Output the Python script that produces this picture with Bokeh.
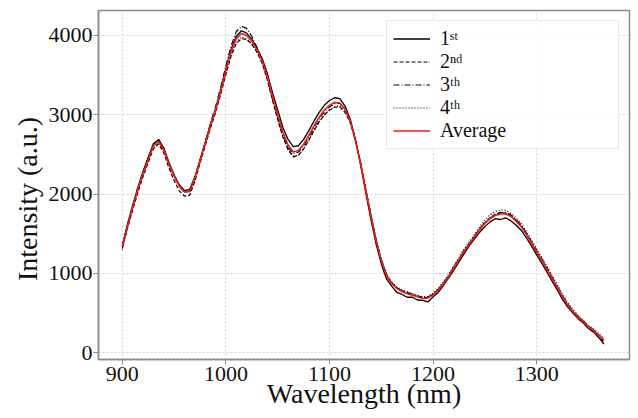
import numpy as np
from bokeh.plotting import figure
from bokeh.models import Range1d, FixedTicker, Legend, LegendItem
from bokeh.embed import file_html
from bokeh.resources import INLINE

# ---- data ----
wavelength = list(range(900, 1366, 5))

run_1st = [1355, 1620, 1860, 2085, 2285, 2465, 2635, 2690, 2585, 2400,
           2245, 2115, 2045, 2060, 2215, 2430, 2650, 2870, 3075, 3315,
           3580, 3825, 3990, 4060, 4030, 3950, 3840, 3710, 3520, 3280,
           3060, 2840, 2690, 2600, 2610, 2690, 2800, 2920, 3030, 3120,
           3180, 3215, 3205, 3110, 2945, 2690, 2370, 2020, 1680, 1370,
           1120, 930, 840, 760, 735, 700, 700, 665, 660, 640,
           705, 760, 850, 945, 1040, 1145, 1250, 1350, 1435, 1520,
           1590, 1650, 1690, 1680, 1700, 1665, 1610, 1545, 1450, 1345,
           1235, 1125, 1015, 900, 790, 670, 575, 500, 430, 375,
           305, 260, 190, 110]

run_2nd = [1320, 1570, 1800, 2020, 2220, 2400, 2570, 2635, 2520, 2330,
           2170, 2040, 1975, 1985, 2160, 2390, 2610, 2830, 3030, 3260,
           3510, 3740, 3900, 3960, 3950, 3890, 3790, 3650, 3440, 3180,
           2940, 2720, 2560, 2470, 2490, 2570, 2680, 2800, 2910, 3000,
           3060, 3095, 3100, 3030, 2900, 2680, 2390, 2060, 1740, 1420,
           1170, 985, 880, 820, 780, 760, 730, 715, 690, 700,
           735, 800, 875, 970, 1080, 1180, 1290, 1380, 1470, 1560,
           1640, 1700, 1745, 1770, 1760, 1730, 1670, 1600, 1500, 1385,
           1275, 1165, 1050, 935, 825, 705, 600, 520, 450, 390,
           330, 285, 225, 130]

run_3th = [1345, 1605, 1850, 2075, 2275, 2455, 2625, 2680, 2575, 2390,
           2235, 2100, 2020, 2030, 2200, 2430, 2660, 2890, 3100, 3350,
           3620, 3870, 4050, 4115, 4090, 3990, 3850, 3690, 3470, 3210,
           2970, 2750, 2590, 2510, 2530, 2610, 2720, 2840, 2950, 3040,
           3100, 3140, 3145, 3075, 2930, 2690, 2390, 2060, 1730, 1420,
           1170, 980, 880, 820, 780, 760, 735, 715, 700, 700,
           740, 800, 880, 970, 1080, 1180, 1290, 1380, 1470, 1560,
           1640, 1700, 1740, 1765, 1770, 1740, 1680, 1610, 1510, 1400,
           1290, 1180, 1070, 950, 835, 715, 615, 530, 460, 400,
           335, 285, 225, 150]

run_4th = [1300, 1575, 1825, 2050, 2250, 2430, 2600, 2655, 2555, 2370,
           2220, 2090, 2025, 2030, 2190, 2410, 2630, 2850, 3050, 3290,
           3540, 3770, 3920, 3980, 3960, 3900, 3790, 3650, 3450, 3200,
           2960, 2740, 2570, 2480, 2490, 2570, 2680, 2800, 2910, 3000,
           3060, 3100, 3115, 3060, 2920, 2690, 2400, 2070, 1740, 1430,
           1180, 990, 890, 830, 790, 770, 745, 725, 705, 710,
           750, 815, 895, 990, 1100, 1200, 1310, 1400, 1490, 1590,
           1670, 1740, 1780, 1800, 1795, 1760, 1700, 1630, 1530, 1420,
           1310, 1200, 1090, 970, 860, 735, 630, 545, 470, 410,
           345, 300, 240, 175]

average = [1340, 1600, 1840, 2060, 2260, 2440, 2610, 2665, 2560, 2380,
           2230, 2100, 2030, 2040, 2200, 2420, 2640, 2860, 3060, 3300,
           3560, 3800, 3960, 4025, 4000, 3930, 3820, 3680, 3480, 3230,
           3000, 2780, 2620, 2530, 2550, 2630, 2740, 2860, 2970, 3060,
           3120, 3155, 3150, 3070, 2920, 2680, 2380, 2050, 1720, 1410,
           1160, 970, 870, 810, 770, 745, 725, 705, 685, 690,
           730, 790, 870, 960, 1070, 1170, 1280, 1370, 1460, 1550,
           1630, 1690, 1730, 1750, 1750, 1720, 1660, 1590, 1490, 1380,
           1270, 1160, 1050, 930, 820, 700, 600, 520, 450, 390,
           330, 280, 220, 160]

series_labels = ["1\u02e2\u1d57", "2\u207f\u1d48", "3\u1d57\u02b0", "4\u1d57\u02b0", "Average"]
x_ticks = [900, 1000, 1100, 1200, 1300]
y_ticks = [0, 1000, 2000, 3000, 4000]

FONT = "Liberation Serif"

p = figure(width=638, height=418, output_backend="svg", toolbar_location=None,
           x_range=Range1d(877, 1389.6), y_range=Range1d(-85, 4315),
           min_border_left=98, min_border_right=9, min_border_top=10, min_border_bottom=59)
p.background_fill_color = "white"
p.border_fill_color = "white"
p.outline_line_color = "#8a8a8a"
p.outline_line_width = 1.5

for ax in (p.xaxis[0], p.yaxis[0]):
    ax.axis_line_color = "#8a8a8a"
    ax.axis_line_width = 1.5
    ax.major_tick_line_color = "#8a8a8a"
    ax.major_tick_out = 5
    ax.major_tick_in = 0
    ax.minor_tick_line_color = None
    ax.major_label_text_font = FONT
    ax.major_label_text_font_size = "22px"
    ax.major_label_text_color = "#111111"
    ax.axis_label_text_font = FONT
    ax.axis_label_text_font_size = "28px"
    ax.axis_label_text_font_style = "normal"
    ax.axis_label_text_color = "#111111"
p.xaxis[0].ticker = FixedTicker(ticks=x_ticks)
p.yaxis[0].ticker = FixedTicker(ticks=y_ticks)
p.xaxis[0].major_label_standoff = 2
p.yaxis[0].major_label_standoff = 1
p.xaxis[0].axis_label = "Wavelength (nm)"
p.xaxis[0].axis_label_standoff = -6
p.yaxis[0].axis_label = "Intensity (a.u.)" + "\u00a0" * 4
p.yaxis[0].axis_label_standoff = 3

p.grid.grid_line_color = "#d4d4d4"
p.grid.grid_line_dash = "2 2"
p.grid.grid_line_width = 1
p.xgrid[0].ticker = FixedTicker(ticks=x_ticks)
p.ygrid[0].ticker = FixedTicker(ticks=y_ticks)

r1 = p.line(wavelength, run_1st, line_color="black", line_width=1.3)
r2 = p.line(wavelength, run_2nd, line_color="black", line_width=1.2, line_dash="4 2")
r3 = p.line(wavelength, run_3th, line_color="black", line_width=1.2, line_dash="6 2 1 2")
r4 = p.line(wavelength, run_4th, line_color="black", line_width=1.2, line_dash="1 2")
r5 = p.line(wavelength, average, line_color="#ee1c1c", line_width=1.6)

legend = Legend(items=[LegendItem(label=l, renderers=[r]) for l, r in
                       zip(series_labels, [r1, r2, r3, r4, r5])],
                location="top_right", margin=10, padding=6, spacing=0,
                glyph_width=37, glyph_height=23, label_height=23, label_width=172,
                label_standoff=10, label_text_font=FONT, label_text_font_size="20px",
                label_text_color="#111111", border_line_color="#d0d0d0",
                border_line_width=1, background_fill_alpha=0.85)
p.add_layout(legend, "center")

open("out.html", "w").write(file_html(p, INLINE))
